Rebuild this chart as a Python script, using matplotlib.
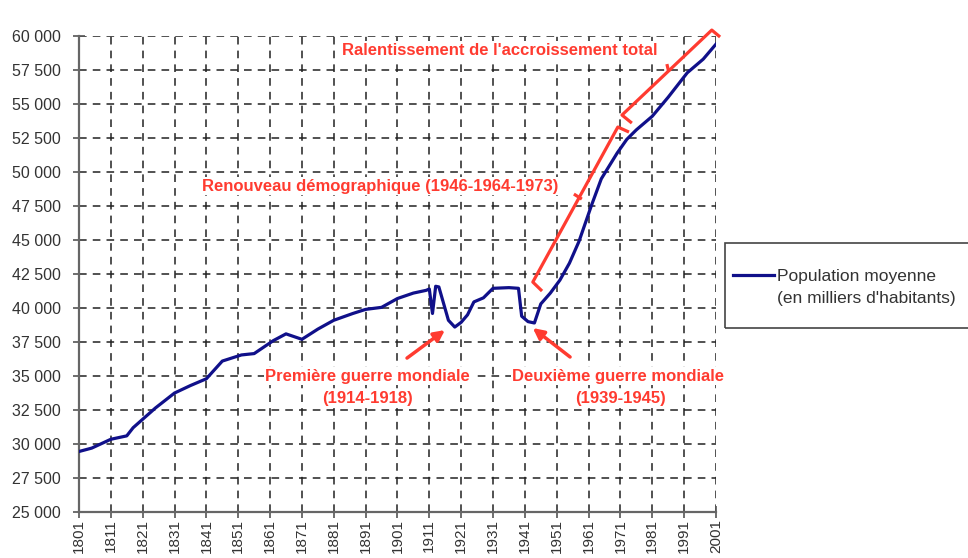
import matplotlib
matplotlib.use("Agg")
import matplotlib.pyplot as plt
from matplotlib.lines import Line2D
from matplotlib.patches import Rectangle

plt.rcParams['font.family'] = ['Liberation Sans', 'DejaVu Sans']

# Population data (thousands)
years = [1801, 1805, 1811, 1816, 1818, 1825, 1831, 1836, 1841, 1846, 1852, 1856,
         1862, 1866, 1871, 1876, 1881, 1887, 1891, 1896, 1901, 1906, 1910, 1911,
         1912, 1913, 1914, 1917, 1919, 1921, 1923, 1925, 1928, 1931, 1936, 1939,
         1940, 1942, 1944, 1946, 1949, 1952, 1955, 1958, 1962, 1965, 1970, 1973,
         1976, 1981, 1986, 1992, 1997, 2001]
population = [29450, 29700, 30350, 30600, 31200, 32650, 33750, 34300, 34800, 36100, 36550, 36650,
              37600, 38100, 37700, 38450, 39100, 39600, 39900, 40050, 40700, 41100, 41300, 41400,
              39600, 41600, 41550, 39100, 38600, 38950, 39500, 40450, 40750, 41450, 41500, 41450,
              39400, 39000, 38900, 40300, 41100, 42050, 43300, 44900, 47600, 49500, 51400, 52400,
              53100, 54100, 55500, 57300, 58300, 59400]

x_ticks = list(range(1801, 2002, 10))
y_ticks = list(range(25000, 60001, 2500))

# annotation brackets (year, value)
renouveau_x = [1946.4, 1943.5, 1970.2, 1973.7]
renouveau_y = [41250, 41910, 53310, 52940]
renouveau_tick_x = [1956.4, 1958.9]
renouveau_tick_y = [48380, 48010]
ralent_x = [1974.6, 1971.5, 1999.7, 2002.3]
ralent_y = [53600, 54190, 60440, 59930]
ralent_tick_x = [1985.6, 1986.2]
ralent_tick_y = [57940, 57350]

red = '#ff3b30'
blue = '#10108a'

fig = plt.figure(figsize=(9.68, 5.58), dpi=100)
ax = fig.add_axes([0.0816, 0.0824, 0.658, 0.853])

line, = ax.plot(years, population, color=blue, lw=2.3, zorder=3)

ax.set_xlim(1801, 2001)
ax.set_ylim(25000, 60000)
ax.set_xticks(x_ticks)
ax.set_yticks(y_ticks)
ax.set_xticklabels([str(y) for y in x_ticks], rotation=90, fontsize=11, color='#333333')
ax.set_yticklabels([f"{v:,}".replace(",", " ") for v in y_ticks], fontsize=11.5, color='#333333')

ax.grid(True, color='#222222', linestyle=(0, (5, 4)), lw=1.1)
for s in ['top', 'right']:
    ax.spines[s].set_visible(False)
for s in ['left', 'bottom']:
    ax.spines[s].set_color('#666666')
    ax.spines[s].set_linewidth(1.6)
ax.tick_params(direction='inout', length=8, color='#555555', width=1.2)
ax.tick_params(axis='y', pad=9)
ax.tick_params(axis='x', pad=1)

# brackets
for bx, by in [(renouveau_x, renouveau_y), (renouveau_tick_x, renouveau_tick_y),
               (ralent_x, ralent_y), (ralent_tick_x, ralent_tick_y)]:
    ax.plot(bx, by, color=red, lw=2.3, clip_on=False, zorder=4, solid_capstyle='butt')

txt = dict(color=red, fontsize=12, fontweight='bold', ha='center', va='center', zorder=5,
           bbox=dict(facecolor='white', edgecolor='none', pad=1))
ax.text(1933.2, 58970, "Ralentissement de l'accroissement total", **txt)
ax.text(1895.5, 48970, "Renouveau démographique (1946-1964-1973)", **txt)
ax.text(1891.7, 35000, "Première guerre mondiale", **txt)
ax.text(1891.7, 33380, "(1914-1918)", **txt)
ax.text(1970.2, 35000, "Deuxième guerre mondiale", **txt)
ax.text(1970.9, 33380, "(1939-1945)", **txt)

arrow = dict(arrowstyle='-|>', color=red, lw=2.5, mutation_scale=16, shrinkA=0, shrinkB=0)
ax.annotate("", xy=(1915.9, 38380), xytext=(1904.0, 36320), arrowprops=arrow)
ax.annotate("", xy=(1943.5, 38530), xytext=(1955.2, 36400), arrowprops=arrow)

# legend box (runs off the right edge as in the original)
fig.patches.append(Rectangle((0.749, 0.4122), 0.27, 0.1523, transform=fig.transFigure,
                             fill=False, edgecolor='#444444', lw=1.2))
blank = Line2D([], [], color='none')
leg = ax.legend([line, blank], ["Population moyenne", "(en milliers d'habitants)"],
                loc='upper left', bbox_to_anchor=(0.757, 0.518), bbox_transform=fig.transFigure,
                fontsize=12.5, frameon=False, handlelength=2.4, handletextpad=0.12,
                borderpad=0, labelspacing=0.4, borderaxespad=0)
for t in leg.get_texts():
    t.set_color('#333333')

fig.savefig("out.png", dpi=100)
